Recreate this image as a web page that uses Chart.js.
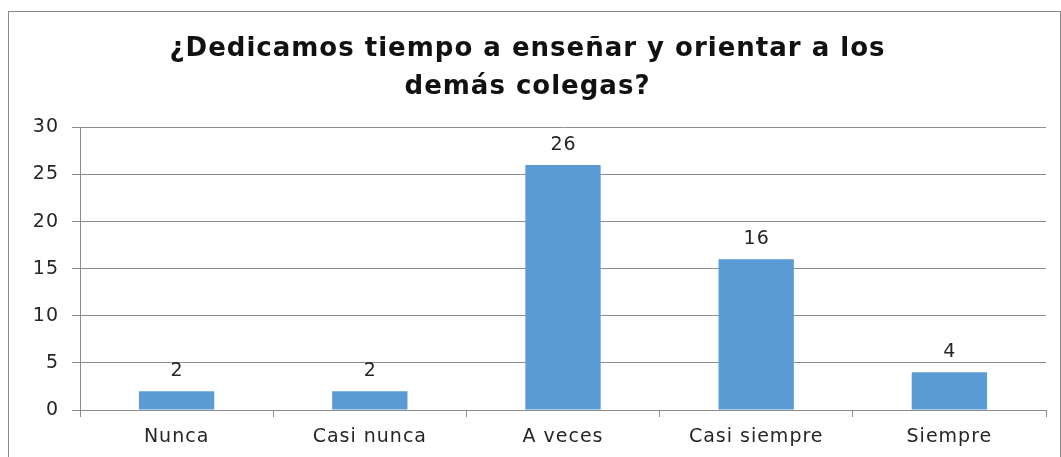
<!DOCTYPE html>
<html>
<head>
<meta charset="utf-8">
<script src="https://cdn.jsdelivr.net/npm/chart.js@4"></script>
<style>
    html, body { margin: 0; padding: 0; background: #fff; overflow: hidden; }
    #marco {
        position: absolute; left: 8px; top: 11px;
        width: 1051px; height: 460px;
        border: 1px solid #8a8a8a; border-bottom: none;
        background: #fff;
    }
    #grafico { display: block; }
</style>
</head>
<body>
<div id="marco">
    <canvas id="grafico" width="1051" height="445"></canvas>
</div>
<script>
// Datos de la encuesta
const categorias = ['Nunca', 'Casi nunca', 'A veces', 'Casi siempre', 'Siempre'];
const respuestas = [2, 2, 26, 16, 4];
const ticksY = [0, 5, 10, 15, 20, 25, 30];
const titulo = ['¿Dedicamos tiempo a enseñar y orientar a los', 'demás colegas?'];

const azul = '#5b9bd5';
const gris = '#8c8c8c';
const fuente = '"DejaVu Sans", sans-serif';
const espaciado = '1px'; // el original tiene el texto un poco estirado

const textoAncho = {
    id: 'textoAncho',
    beforeDraw(chart) {
        chart.ctx.letterSpacing = espaciado;
    }
};

// etiquetas encima de cada barra
const etiquetasBarras = {
    id: 'etiquetasBarras',
    afterDatasetsDraw(chart) {
        const ctx = chart.ctx;
        const meta = chart.getDatasetMeta(0);
        ctx.save();
        ctx.letterSpacing = espaciado;
        ctx.font = '19px ' + fuente;
        ctx.fillStyle = '#262626';
        ctx.textAlign = 'center';
        ctx.textBaseline = 'middle';
        meta.data.forEach((bar, i) => {
            ctx.fillText(String(chart.data.datasets[0].data[i]), bar.x + 0.5, bar.y - 20);
        });
        ctx.restore();
    }
};

new Chart(document.getElementById('grafico'), {
    type: 'bar',
    data: {
        labels: categorias,
        datasets: [{
            data: respuestas,
            backgroundColor: azul,
            borderWidth: 0,
            barPercentage: 0.39,
            categoryPercentage: 1
        }]
    },
    options: {
        responsive: false,
        animation: false,
        layout: { padding: { left: 0, right: 14, top: 0, bottom: 0 } },
        plugins: {
            legend: { display: false },
            tooltip: { enabled: false },
            title: {
                display: true,
                text: titulo,
                color: '#111',
                font: { family: fuente, size: 26, weight: 'bold', lineHeight: 1.47 },
                padding: { top: 18, bottom: 21 }
            }
        },
        scales: {
            x: {
                grid: { display: true, drawOnChartArea: false, drawTicks: true, tickLength: 7, color: gris, offset: true },
                border: { display: true, color: gris },
                ticks: { color: '#262626', font: { family: fuente, size: 19 }, padding: 9 },
                afterFit(s) { s.height = 47; }
            },
            y: {
                min: 0,
                max: 30,
                afterBuildTicks(s) { s.ticks = ticksY.map(v => ({ value: v })); },
                grid: { color: gris, tickLength: 8 },
                border: { display: true, color: gris },
                ticks: { color: '#262626', font: { family: fuente, size: 19 }, padding: 13 },
                afterFit(s) { s.width = 71; }
            }
        }
    },
    plugins: [textoAncho, etiquetasBarras]
});
</script>
</body>
</html>
